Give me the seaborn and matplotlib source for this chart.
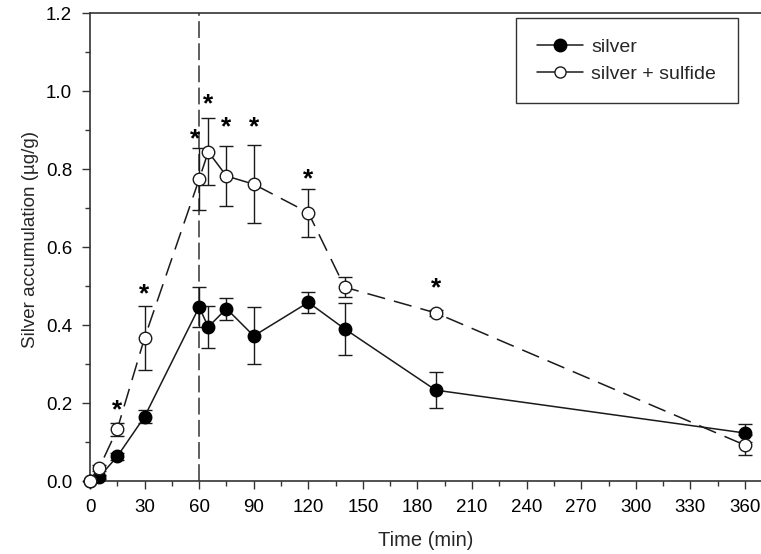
import matplotlib
matplotlib.use("Agg")
import matplotlib.pyplot as plt
from matplotlib.lines import Line2D
from matplotlib.ticker import MultipleLocator
import seaborn as sns
import pandas as pd

# ---- data ----
time_silver = [0, 5, 15, 30, 60, 65, 75, 90, 120, 140, 190, 360]
silver_mean = [0.0, 0.01, 0.063, 0.165, 0.446, 0.395, 0.442, 0.372, 0.458, 0.390, 0.233, 0.123]
silver_err = [0.0, 0.005, 0.008, 0.016, 0.051, 0.053, 0.028, 0.073, 0.027, 0.067, 0.046, 0.022]

time_sulfide = [0, 5, 15, 30, 60, 65, 75, 90, 120, 140, 190, 360]
sulfide_mean = [0.0, 0.033, 0.133, 0.367, 0.774, 0.844, 0.782, 0.761, 0.688, 0.497, 0.431, 0.092]
sulfide_err = [0.0, 0.008, 0.017, 0.083, 0.080, 0.086, 0.078, 0.100, 0.062, 0.025, 0.008, 0.026]

star_times = [15, 30, 58, 65, 75, 90, 120, 190]
star_heights = [0.187, 0.485, 0.882, 0.972, 0.913, 0.913, 0.780, 0.500]

x_ticks = list(range(0, 361, 30))
y_ticks = [0.0, 0.2, 0.4, 0.6, 0.8, 1.0, 1.2]
marker_time = 60

df = pd.concat([
    pd.DataFrame({"time": time_silver, "value": silver_mean, "err": silver_err, "group": "silver"}),
    pd.DataFrame({"time": time_sulfide, "value": sulfide_mean, "err": sulfide_err, "group": "silver + sulfide"}),
])

sns.set_theme(style="ticks")
plt.rcParams["font.family"] = ["Liberation Sans", "DejaVu Sans"]

fig = plt.figure(figsize=(7.61, 5.54), dpi=100)
ax = fig.add_axes([90 / 761, 1 - 481 / 554, 1 - 90 / 761, (481 - 13) / 554])

ink = "#1a1a1a"

# vertical dashed reference line
ax.axvline(marker_time, color="#333333", lw=1.1, dashes=(11, 3.5), zorder=1)

s = df[df.group == "silver"]
o = df[df.group == "silver + sulfide"]

ax.errorbar(s.time, s.value, yerr=s.err, fmt="none", ecolor=ink, elinewidth=1.0,
            capsize=5, capthick=1.0, zorder=2, clip_on=False)
ax.errorbar(o.time, o.value, yerr=o.err, fmt="none", ecolor=ink, elinewidth=1.0,
            capsize=5, capthick=1.0, zorder=2, clip_on=False)

sns.lineplot(data=s, x="time", y="value", ax=ax, color=ink, lw=1.1, marker="o",
             markersize=9, markerfacecolor="black", markeredgecolor="black",
             markeredgewidth=1.0, zorder=3, clip_on=False, legend=False, errorbar=None)
sns.lineplot(data=o, x="time", y="value", ax=ax, color=ink, lw=1.1, marker="o",
             markersize=9, markerfacecolor="white", markeredgecolor=ink,
             markeredgewidth=1.0, dashes=False, zorder=4, clip_on=False, legend=False,
             errorbar=None)
ax.lines[-1].set_dashes((12, 6))

for t, h in zip(star_times, star_heights):
    ax.text(t, h, "*", ha="center", va="center_baseline", fontsize=19,
            fontweight="bold", color="black", zorder=5)

ax.set_xlim(0, 368.8)
ax.set_ylim(0, 1.2)
ax.set_xticks(x_ticks)
ax.set_yticks(y_ticks)
ax.set_yticklabels([f"{v:.1f}" for v in y_ticks])
ax.xaxis.set_minor_locator(MultipleLocator(15))
ax.yaxis.set_minor_locator(MultipleLocator(0.1))
ax.tick_params(axis="both", which="major", direction="out", length=5.8, width=1,
               labelsize=13.5, color="#333333", labelcolor="black", pad=7)
ax.tick_params(axis="both", which="minor", direction="out", length=3.6, width=1,
               color="#333333")

for side in ["left", "bottom", "top"]:
    ax.spines[side].set_visible(True)
    ax.spines[side].set_color("#333333")
    ax.spines[side].set_linewidth(1.2)
ax.spines["right"].set_visible(False)

ax.set_xlabel("Time (min)", fontsize=14.5, labelpad=11)
ax.set_ylabel("Silver accumulation (µg/g)", fontsize=13.5, labelpad=5, y=0.517)

handles = [
    Line2D([], [], color=ink, lw=1.1, marker="o", markersize=9,
           markerfacecolor="black", markeredgecolor="black"),
    Line2D([], [], color=ink, lw=1.1, marker="o", markersize=8,
           markerfacecolor="white", markeredgecolor=ink),
]
leg = ax.legend(handles, ["silver", "silver + sulfide"], loc="upper left",
                bbox_to_anchor=(0.635, 0.816, 0.331, 0.173), mode="expand",
                fontsize=14, frameon=True, fancybox=False, edgecolor="black",
                handlelength=2.4, handletextpad=0.4, labelspacing=0.45,
                borderpad=1.05, borderaxespad=0)
leg.get_frame().set_linewidth(1.0)

fig.savefig("out.png", dpi=100)
